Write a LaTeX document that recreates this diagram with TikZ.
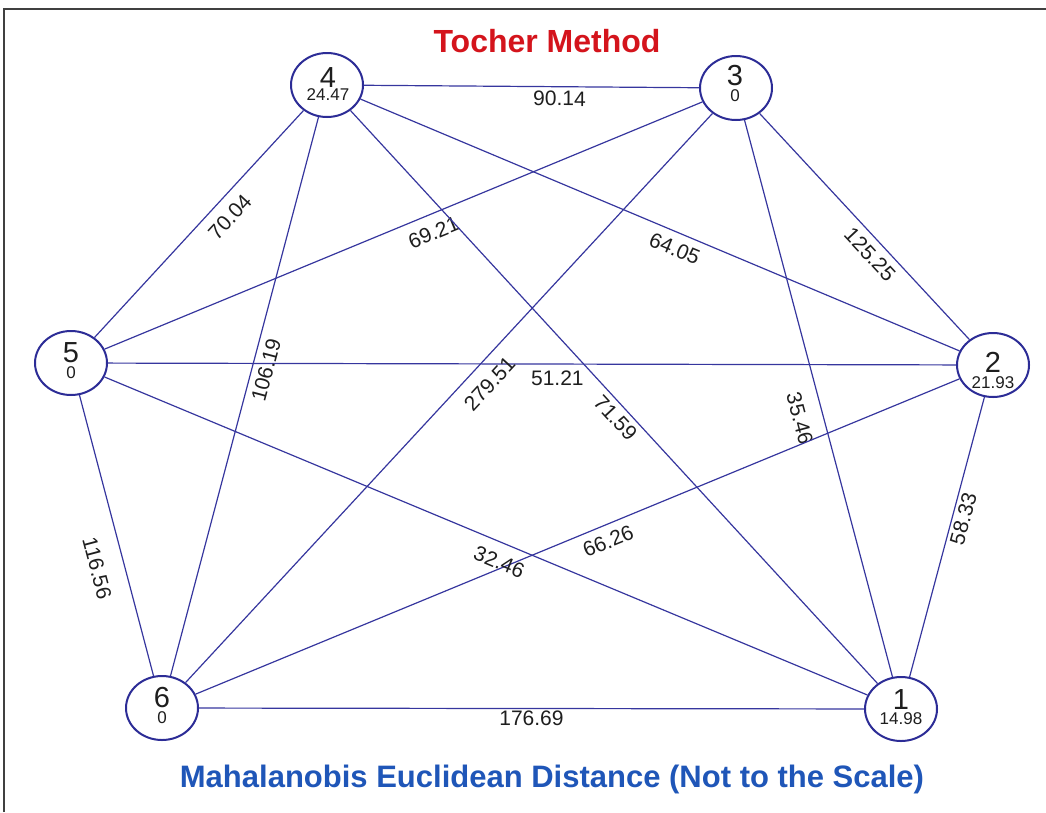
\documentclass[tikz,border=0pt]{standalone}
\usepackage{fontspec}
\setmainfont{Liberation Sans}
\usetikzlibrary{shapes.geometric}
\definecolor{edgeblue}{HTML}{36369E}
\definecolor{nodeblue}{HTML}{2C2C96}
\definecolor{titlered}{HTML}{D4141C}
\definecolor{capblue}{HTML}{1F56B8}
\definecolor{txt}{HTML}{1E1E1E}
\begin{document}
\begin{tikzpicture}[x=1pt,y=-1pt,
  vert/.style={ellipse, draw=nodeblue, line width=2pt, fill=white, minimum width=72pt, minimum height=64pt, inner sep=0pt},
  num/.style={font=\fontsize{29}{29}\selectfont, text=txt, inner sep=0pt},
  val/.style={font=\fontsize{17}{17}\selectfont, text=txt, inner sep=0pt},
  conn/.style={draw=edgeblue, line width=1.2pt},
  wt/.style={font=\fontsize{21}{21}\selectfont, text=txt, sloped, inner sep=1pt},
  frame/.style={draw=black!75, line width=2pt},
]
\useasboundingbox (0,0) rectangle (1046,812);
\draw[frame] (4,812) -- (4,9) -- (1046,9);

% vertices
\node[vert] (n4) at (327,85) {};
\node[vert] (n3) at (736,88) {};
\node[vert] (n5) at (71,363) {};
\node[vert] (n2) at (993,365) {};
\node[vert] (n6) at (162,708) {};
\node[vert] (n1) at (901,709) {};

% edges
\draw[conn] (n4) -- node[wt, pos=0.584, below=3pt] {90.14} (n3);
\draw[conn] (n5) -- node[wt, pos=0.584, below=9pt] {70.04} (n4);
\draw[conn] (n5) -- node[wt, pos=0.539, below=9pt] {69.21} (n3);
\draw[conn] (n4) -- node[wt, pos=0.535, below=7pt] {64.05} (n2);
\draw[conn] (n3) -- node[wt, pos=0.579, below=6pt] {125.25} (n2);
\draw[conn] (n5) -- node[wt, pos=0.530, below=5pt] {51.21} (n2);
\draw[conn] (n6) -- node[wt, pos=0.554, below=5pt] {106.19} (n4);
\draw[conn] (n6) -- node[wt, pos=0.549, below=11pt] {279.51} (n3);
\draw[conn] (n4) -- node[wt, pos=0.521, below=4pt] {71.59} (n1);
\draw[conn] (n3) -- node[wt, pos=0.525, below=14pt] {35.46} (n1);
\draw[conn] (n1) -- node[wt, pos=0.575, below=2pt] {58.33} (n2);
\draw[conn] (n6) -- node[wt, pos=0.532, below=7pt] {66.26} (n2);
\draw[conn] (n5) -- node[wt, pos=0.527, below=10pt] {32.46} (n1);
\draw[conn] (n5) -- node[wt, pos=0.592, below=18pt] {116.56} (n6);
\draw[conn] (n6) -- node[wt, pos=0.50, below=1pt] {176.69} (n1);

% vertex texts
\node[num] (n4num) at (328,77.5) {4};
\node[val] (n4val) at (328,95) {24.47};
\node[num] (n3num) at (735,76) {3};
\node[val] (n3val) at (735,95.5) {0};
\node[num] (n5num) at (71,352.5) {5};
\node[val] (n5val) at (71,372.5) {0};
\node[num] (n2num) at (993,362.5) {2};
\node[val] (n2val) at (993,382.5) {21.93};
\node[num] (n6num) at (162,698) {6};
\node[val] (n6val) at (162,718) {0};
\node[num] (n1num) at (901,700) {1};
\node[val] (n1val) at (901,719) {14.98};

% titles
\node[font=\bfseries\fontsize{32}{32}\selectfont, text=titlered, anchor=base, inner sep=0pt] (title) at (547,52) {Tocher Method};
\node[font=\bfseries\fontsize{31}{31}\selectfont, text=capblue, anchor=base, inner sep=0pt] (caption) at (552,787) {Mahalanobis Euclidean Distance (Not to the Scale)};
\end{tikzpicture}
\end{document}
